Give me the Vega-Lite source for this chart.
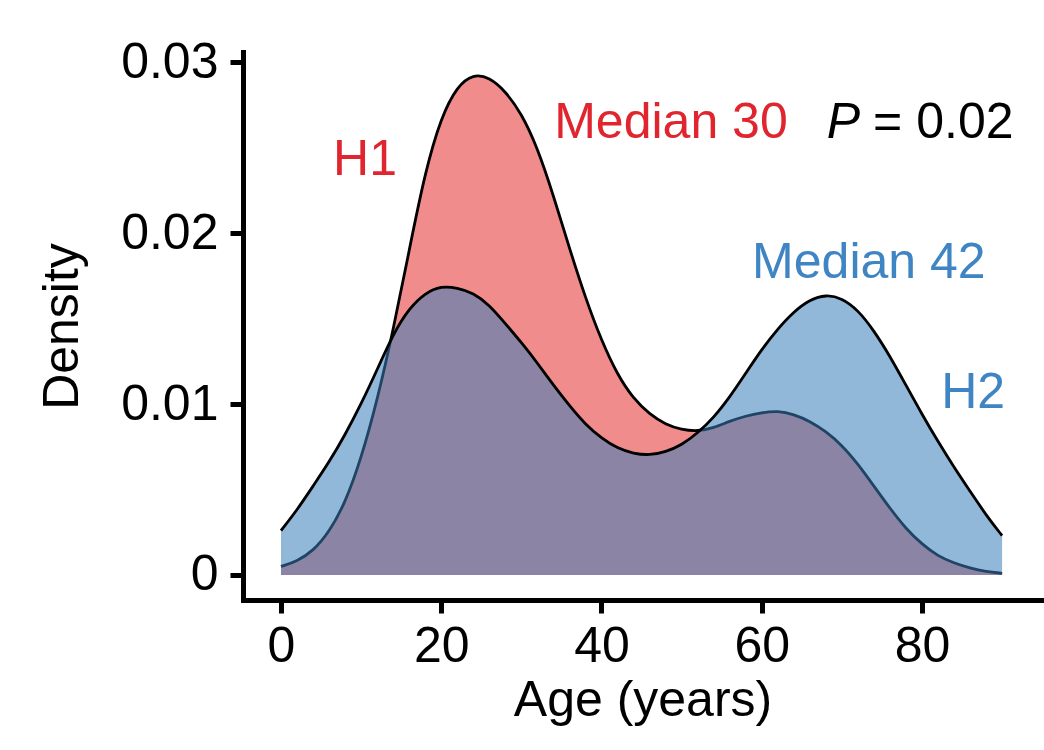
{
  "$schema": "https://vega.github.io/schema/vega-lite/v6.json",
  "width": 799,
  "height": 548,
  "autosize": {"type": "none"},
  "padding": {"left": 243, "top": 52, "right": 2, "bottom": 150},
  "background": "white",
  "config": {
    "view": {"stroke": null},
    "font": "Liberation Sans",
    "axis": {
      "grid": false,
      "domainColor": "black",
      "domainWidth": 5,
      "domainCap": "square",
      "tickColor": "black",
      "tickWidth": 5,
      "tickSize": 13,
      "labelColor": "black",
      "labelFont": "Liberation Sans",
      "labelFontSize": 50,
      "titleFont": "Liberation Sans",
      "titleFontSize": 50,
      "titleFontWeight": "normal",
      "titleColor": "black"
    }
  },
  "datasets": {
    "dens": [
      {"group": "H1", "age": 0, "density": 0.0005},
      {"group": "H1", "age": 2, "density": 0.0008},
      {"group": "H1", "age": 4, "density": 0.0014},
      {"group": "H1", "age": 6, "density": 0.0025},
      {"group": "H1", "age": 8, "density": 0.0042},
      {"group": "H1", "age": 10, "density": 0.0068},
      {"group": "H1", "age": 12, "density": 0.0102},
      {"group": "H1", "age": 14, "density": 0.0143},
      {"group": "H1", "age": 16, "density": 0.0190},
      {"group": "H1", "age": 18, "density": 0.0236},
      {"group": "H1", "age": 20, "density": 0.0268},
      {"group": "H1", "age": 22, "density": 0.0286},
      {"group": "H1", "age": 24, "density": 0.0293},
      {"group": "H1", "age": 26, "density": 0.0291},
      {"group": "H1", "age": 28, "density": 0.0283},
      {"group": "H1", "age": 30, "density": 0.0270},
      {"group": "H1", "age": 32, "density": 0.0250},
      {"group": "H1", "age": 34, "density": 0.0222},
      {"group": "H1", "age": 36, "density": 0.0191},
      {"group": "H1", "age": 38, "density": 0.0162},
      {"group": "H1", "age": 40, "density": 0.0137},
      {"group": "H1", "age": 42, "density": 0.0117},
      {"group": "H1", "age": 44, "density": 0.0103},
      {"group": "H1", "age": 46, "density": 0.0094},
      {"group": "H1", "age": 48, "density": 0.0088},
      {"group": "H1", "age": 50, "density": 0.0085},
      {"group": "H1", "age": 52, "density": 0.0084},
      {"group": "H1", "age": 54, "density": 0.0086},
      {"group": "H1", "age": 56, "density": 0.0090},
      {"group": "H1", "age": 58, "density": 0.0093},
      {"group": "H1", "age": 60, "density": 0.0095},
      {"group": "H1", "age": 62, "density": 0.0096},
      {"group": "H1", "age": 64, "density": 0.0094},
      {"group": "H1", "age": 66, "density": 0.0090},
      {"group": "H1", "age": 68, "density": 0.0084},
      {"group": "H1", "age": 70, "density": 0.0076},
      {"group": "H1", "age": 72, "density": 0.0065},
      {"group": "H1", "age": 74, "density": 0.0052},
      {"group": "H1", "age": 76, "density": 0.0039},
      {"group": "H1", "age": 78, "density": 0.0027},
      {"group": "H1", "age": 80, "density": 0.0018},
      {"group": "H1", "age": 82, "density": 0.0011},
      {"group": "H1", "age": 84, "density": 0.0007},
      {"group": "H1", "age": 86, "density": 0.0004},
      {"group": "H1", "age": 88, "density": 0.0002},
      {"group": "H1", "age": 90, "density": 0.0001},
      {"group": "H2", "age": 0, "density": 0.0026},
      {"group": "H2", "age": 2, "density": 0.0038},
      {"group": "H2", "age": 4, "density": 0.0052},
      {"group": "H2", "age": 6, "density": 0.0066},
      {"group": "H2", "age": 8, "density": 0.0082},
      {"group": "H2", "age": 10, "density": 0.0100},
      {"group": "H2", "age": 12, "density": 0.0120},
      {"group": "H2", "age": 14, "density": 0.0141},
      {"group": "H2", "age": 16, "density": 0.0156},
      {"group": "H2", "age": 18, "density": 0.0165},
      {"group": "H2", "age": 20, "density": 0.0169},
      {"group": "H2", "age": 22, "density": 0.0168},
      {"group": "H2", "age": 24, "density": 0.0165},
      {"group": "H2", "age": 26, "density": 0.0158},
      {"group": "H2", "age": 28, "density": 0.0147},
      {"group": "H2", "age": 30, "density": 0.0136},
      {"group": "H2", "age": 32, "density": 0.0124},
      {"group": "H2", "age": 34, "density": 0.0111},
      {"group": "H2", "age": 36, "density": 0.0099},
      {"group": "H2", "age": 38, "density": 0.0088},
      {"group": "H2", "age": 40, "density": 0.0080},
      {"group": "H2", "age": 42, "density": 0.0074},
      {"group": "H2", "age": 44, "density": 0.0071},
      {"group": "H2", "age": 46, "density": 0.0070},
      {"group": "H2", "age": 48, "density": 0.0072},
      {"group": "H2", "age": 50, "density": 0.0076},
      {"group": "H2", "age": 52, "density": 0.0083},
      {"group": "H2", "age": 54, "density": 0.0092},
      {"group": "H2", "age": 56, "density": 0.0104},
      {"group": "H2", "age": 58, "density": 0.0118},
      {"group": "H2", "age": 60, "density": 0.0132},
      {"group": "H2", "age": 62, "density": 0.0144},
      {"group": "H2", "age": 64, "density": 0.0154},
      {"group": "H2", "age": 66, "density": 0.0161},
      {"group": "H2", "age": 68, "density": 0.0164},
      {"group": "H2", "age": 70, "density": 0.0162},
      {"group": "H2", "age": 72, "density": 0.0155},
      {"group": "H2", "age": 74, "density": 0.0143},
      {"group": "H2", "age": 76, "density": 0.0128},
      {"group": "H2", "age": 78, "density": 0.0111},
      {"group": "H2", "age": 80, "density": 0.0094},
      {"group": "H2", "age": 82, "density": 0.0078},
      {"group": "H2", "age": 84, "density": 0.0063},
      {"group": "H2", "age": 86, "density": 0.0049},
      {"group": "H2", "age": 88, "density": 0.0035},
      {"group": "H2", "age": 90, "density": 0.0023}
    ],
    "notes": [
      {"label": "H1", "x": 6.5, "y": 0.0234, "grp": "H1"},
      {"label": "Median 30", "x": 34.1, "y": 0.02556, "grp": "H1"},
      {"label": "Median 42", "x": 58.8, "y": 0.01737, "grp": "H2"},
      {"label": "H2", "x": 82.4, "y": 0.00977, "grp": "H2"},
      {"label": "= 0.02", "x": 73.9, "y": 0.02556, "grp": "P"}
    ],
    "pnote": [
      {"label": "P", "x": 68.1, "y": 0.02556}
    ]
  },
  "layer": [
    {
      "data": {"name": "dens"},
      "transform": [{"filter": "datum.group === 'H1'"}],
      "mark": {"type": "area", "color": "#E41A1C", "opacity": 0.5, "interpolate": "basis"},
      "encoding": {
        "x": {
          "field": "age", "type": "quantitative",
          "scale": {"domain": [-4.743, 94.98], "nice": false, "zero": false},
          "axis": {"values": [0, 20, 40, 60, 80], "title": "Age (years)", "labelPadding": 8, "titlePadding": 4, "labelFlush": false}
        },
        "y": {
          "field": "density", "type": "quantitative",
          "scale": {"domain": [-0.001462, 0.030585], "nice": false, "zero": false},
          "axis": {"values": [0, 0.01, 0.02, 0.03], "title": "Density", "labelPadding": 12, "titlePadding": 33,
                   "labelExpr": "datum.value === 0 ? '0' : format(datum.value, '.2f')", "labelFlush": false}
        }
      }
    },
    {
      "data": {"name": "dens"},
      "transform": [{"filter": "datum.group === 'H1'"}],
      "mark": {"type": "line", "color": "black", "strokeWidth": 2.8, "interpolate": "basis"},
      "encoding": {
        "x": {"field": "age", "type": "quantitative"},
        "y": {"field": "density", "type": "quantitative"}
      }
    },
    {
      "data": {"name": "dens"},
      "transform": [{"filter": "datum.group === 'H2'"}],
      "mark": {"type": "area", "color": "#377EB8", "opacity": 0.55, "interpolate": "basis"},
      "encoding": {
        "x": {"field": "age", "type": "quantitative"},
        "y": {"field": "density", "type": "quantitative"}
      }
    },
    {
      "data": {"name": "dens"},
      "transform": [{"filter": "datum.group === 'H2'"}],
      "mark": {"type": "line", "color": "black", "strokeWidth": 2.8, "interpolate": "basis"},
      "encoding": {
        "x": {"field": "age", "type": "quantitative"},
        "y": {"field": "density", "type": "quantitative"}
      }
    },
    {
      "data": {"name": "notes"},
      "mark": {"type": "text", "align": "left", "baseline": "alphabetic", "fontSize": 50, "font": "Liberation Sans"},
      "encoding": {
        "x": {"field": "x", "type": "quantitative"},
        "y": {"field": "y", "type": "quantitative"},
        "text": {"field": "label"},
        "color": {"field": "grp", "type": "nominal", "legend": null,
                  "scale": {"domain": ["H1", "H2", "P"], "range": ["#E0252E", "#3F85C4", "#000000"]}}
      }
    },
    {
      "data": {"name": "pnote"},
      "mark": {"type": "text", "align": "left", "baseline": "alphabetic", "fontSize": 50, "font": "Liberation Sans", "fontStyle": "italic", "color": "black"},
      "encoding": {
        "x": {"field": "x", "type": "quantitative"},
        "y": {"field": "y", "type": "quantitative"},
        "text": {"field": "label"}
      }
    }
  ]
}
